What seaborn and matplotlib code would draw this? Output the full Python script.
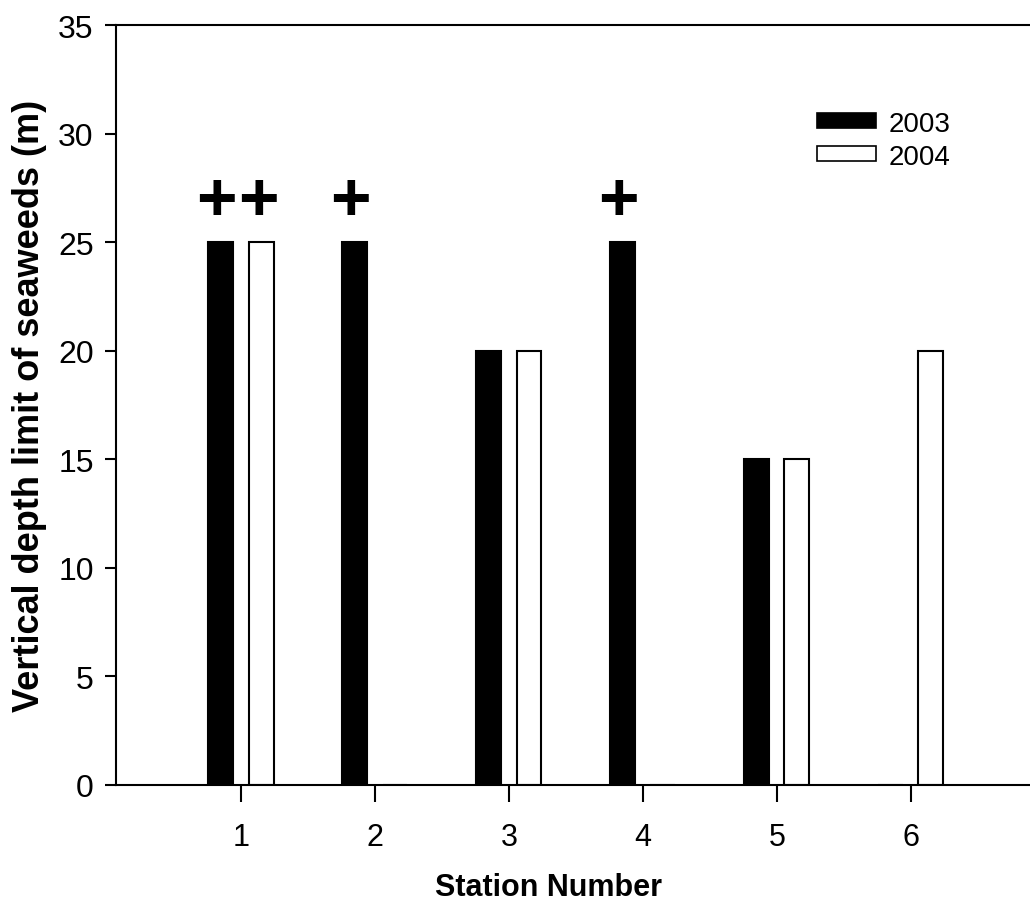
import numpy as np
import pandas as pd
import matplotlib
matplotlib.use('Agg')
import matplotlib.pyplot as plt
import seaborn as sns

stations = ['1', '2', '3', '4', '5', '6']
depth_2003 = [25, 25, 20, 25, 15, 0]
depth_2004 = [25, 0, 20, 0, 15, 20]
years = ['2003', '2004']
# significance marks: (station, year, label)
marks = [('1', '2003', '+'), ('1', '2004', '+'), ('2', '2003', '+'), ('4', '2003', '+')]
mark_level = 26.9

df = pd.DataFrame({
    'Station': stations * 2,
    'Year': ['2003'] * len(stations) + ['2004'] * len(stations),
    'Depth': depth_2003 + depth_2004,
})

sns.set_style('ticks')
plt.rcParams['font.family'] = ['Liberation Sans', 'DejaVu Sans']
plt.rcParams['text.color'] = 'black'
plt.rcParams['axes.labelcolor'] = 'black'

fig = plt.figure(figsize=(10.3, 9.2), dpi=100)
ax = fig.add_axes([0.1126, 0.1457, 0.8874, 0.826])

sns.barplot(data=df, x='Station', y='Depth', hue='Year', order=stations,
            hue_order=years, palette={'2003': 'black', '2004': 'white'},
            edgecolor='black', linewidth=1.5, width=0.6, gap=0.38,
            ax=ax)

# plus marks above bars
for st, yr, lab in marks:
    xi = stations.index(st) + (-0.18 if yr == '2003' else 0.13)
    ax.text(xi, mark_level, lab, ha='center', va='center', fontsize=50,
            fontweight='bold', color='black')

ax.set_ylim(0, 35)
ax.set_xlim(-0.933, 5.89)
ax.set_yticks(range(0, 36, 5))
ax.spines['right'].set_visible(False)
for s in ['left', 'bottom', 'top']:
    ax.spines[s].set_linewidth(1.5)
    ax.spines[s].set_color('black')
ax.tick_params(axis='y', length=8, width=1.5, pad=8, labelsize=23,
               colors='black', labelcolor='black')
ax.tick_params(axis='x', length=12, width=1.5, pad=15, labelsize=22,
               colors='black', labelcolor='black')

ax.set_ylabel('Vertical depth limit of seaweeds (m)', fontsize=26,
              fontweight='bold', labelpad=8)
ax.set_xlabel('Station Number', fontsize=22, fontweight='bold')
ax.xaxis.set_label_coords(0.473, -0.115)

leg = ax.legend(loc='upper left', bbox_to_anchor=(0.74, 0.92), frameon=False,
                fontsize=20, handlelength=2.1, handleheight=0.45,
                handletextpad=0.45, labelspacing=0.25)
for h in leg.legend_handles:
    h.set_edgecolor('black')
    h.set_linewidth(1.2)

fig.savefig('out.png', dpi=100, facecolor='white')
